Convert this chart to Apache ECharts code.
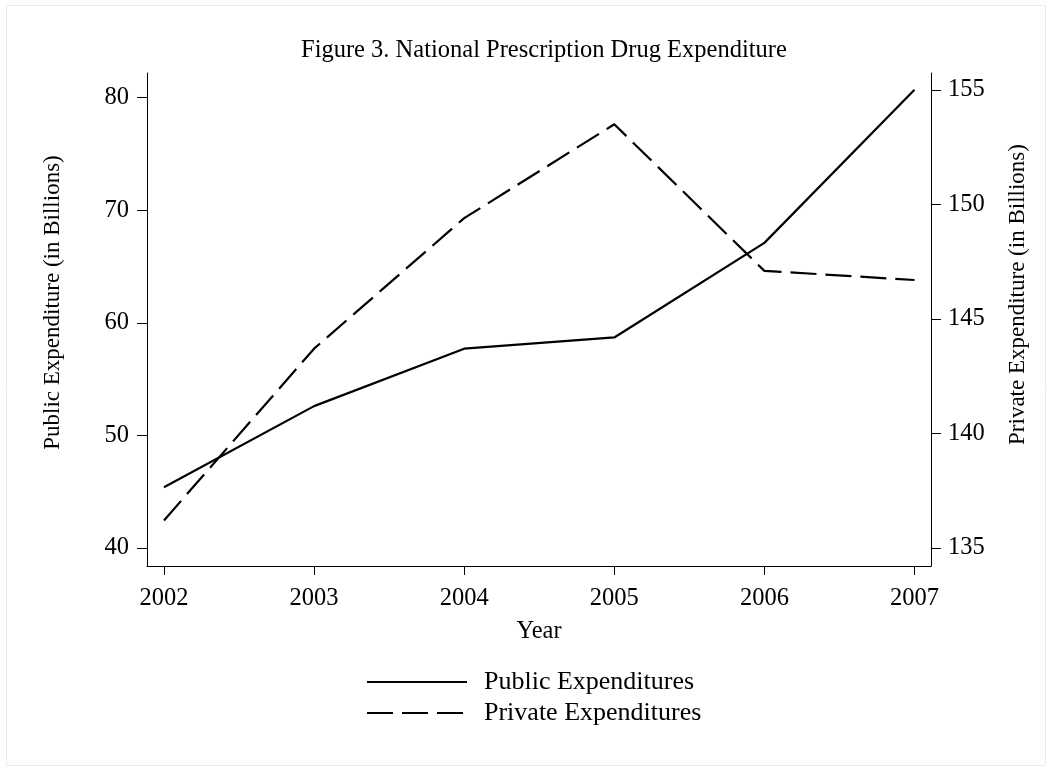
<!DOCTYPE html>
<html>
<head>
<meta charset="utf-8">
<script src="https://cdn.jsdelivr.net/npm/echarts@6/dist/echarts.min.js"></script>
<style>
  html, body { margin: 0; padding: 0; background: #fff; }
  #main { width: 1052px; height: 772px; }
</style>
</head>
<body>
<div id="main"></div>
<script>
// values
var years = [2002, 2003, 2004, 2005, 2006, 2007]
var publicExp = [45.4, 52.6, 57.7, 58.7, 67.1, 80.7]
var privateExp = [136.2, 143.7, 149.4, 153.5, 147.1, 146.7]
var leftTicks = [40, 50, 60, 70, 80]
var rightTicks = [135, 140, 145, 150, 155]

var font = 'Liberation Serif'
var chart = echarts.init(document.getElementById('main'))

function pairs(ys) {
  return years.map(function (y, i) { return [y, ys[i]] })
}

var option = {
  backgroundColor: '#fff',
  animation: false,
  title: {
    text: 'Figure 3. National Prescription Drug Expenditure',
    left: 296,
    top: 33,
    textStyle: { fontFamily: font, fontSize: 24.5, fontWeight: 'normal', color: '#000' }
  },
  legend: {
    orient: 'vertical',
    left: 361,
    top: 664,
    itemWidth: 100,
    itemHeight: 14,
    itemGap: 5,
    itemStyle: { opacity: 0 },
    textStyle: { fontFamily: font, fontSize: 26, lineHeight: 26, color: '#000', padding: [0, 0, 0, 12] },
    data: ['Public Expenditures', 'Private Expenditures']
  },
  grid: { left: 147, right: 121, top: 73, bottom: 206 },
  xAxis: {
    type: 'value',
    min: 2001.887,
    max: 2007.11,
    name: 'Year',
    nameLocation: 'middle',
    nameGap: 53,
    nameTextStyle: { fontFamily: font, fontSize: 24.5, color: '#000' },
    axisLine: { show: true, lineStyle: { color: '#000', width: 1 } },
    axisTick: { show: true, length: 9, customValues: years, lineStyle: { color: '#000' } },
    axisLabel: {
      customValues: years,
      margin: 20,
      fontFamily: font, fontSize: 24.5, color: '#000',
      formatter: function (v) { return String(v) }
    },
    splitLine: { show: false }
  },
  yAxis: [
    {
      type: 'value',
      position: 'left',
      min: 38.40,
      max: 82.19,
      name: 'Public Expenditure (in Billions)',
      nameLocation: 'middle',
      nameGap: 83,
      nameTextStyle: { fontFamily: font, fontSize: 23, color: '#000', padding: [0, 0, 0, 34] },
      axisLine: { show: true, lineStyle: { color: '#000', width: 1 } },
      axisTick: { show: true, length: 10, customValues: leftTicks, lineStyle: { color: '#000' } },
      axisLabel: {
        customValues: leftTicks,
        margin: 18,
        fontFamily: font, fontSize: 24.5, color: '#000'
      },
      splitLine: { show: false }
    },
    {
      type: 'value',
      position: 'right',
      min: 134.21,
      max: 155.74,
      name: 'Private Expenditure (in Billions)',
      nameLocation: 'middle',
      nameGap: 75,
      nameTextStyle: { fontFamily: font, fontSize: 23, color: '#000', padding: [0, 0, 0, 50] },
      axisLine: { show: true, lineStyle: { color: '#000', width: 1 } },
      axisTick: { show: true, length: 10, customValues: rightTicks, lineStyle: { color: '#000' } },
      axisLabel: {
        customValues: rightTicks,
        margin: 17,
        fontFamily: font, fontSize: 24.5, color: '#000'
      },
      splitLine: { show: false }
    }
  ],
  graphic: [{
    type: 'rect',
    shape: { x: 6.5, y: 5.5, width: 1039, height: 760 },
    style: { fill: 'none', stroke: '#e6edf1', lineWidth: 1 },
    silent: true
  }],
  series: [
    {
      name: 'Public Expenditures',
      type: 'line',
      yAxisIndex: 0,
      data: pairs(publicExp),
      symbol: 'none',
      lineStyle: { color: '#000', width: 2.2 },
      itemStyle: { color: '#000' }
    },
    {
      name: 'Private Expenditures',
      type: 'line',
      yAxisIndex: 1,
      data: pairs(privateExp),
      symbol: 'none',
      lineStyle: { color: '#000', width: 2.2, type: [26, 9] },
      itemStyle: { color: '#000' }
    }
  ]
}

chart.setOption(option)
</script>
</body>
</html>
